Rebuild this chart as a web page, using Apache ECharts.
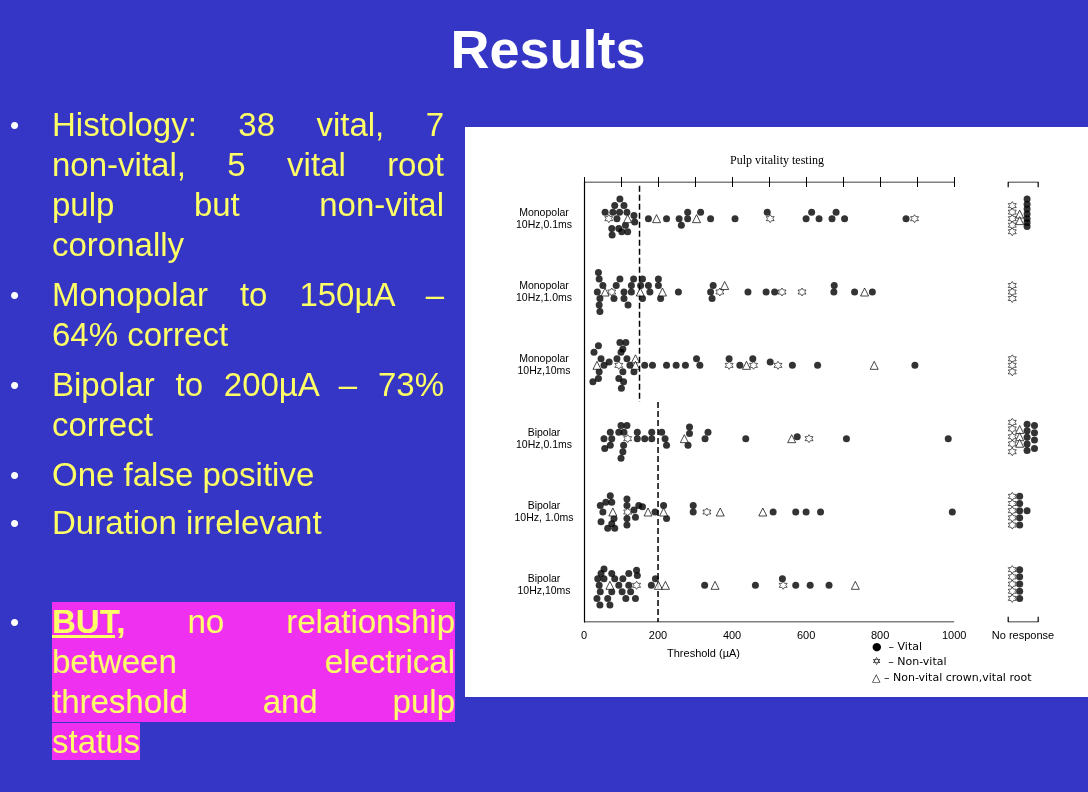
<!DOCTYPE html>
<html><head><meta charset="utf-8">
<script src="https://cdn.jsdelivr.net/npm/echarts@6/dist/echarts.min.js"></script>
<style>
html,body{margin:0;padding:0;width:1088px;height:792px;overflow:hidden;background:#3535c6;font-family:"Liberation Sans",Arial,sans-serif;}
#chart{position:absolute;left:0;top:0;width:1088px;height:792px;}
.t{position:absolute;color:#ffff66;font-size:33px;line-height:40px;height:40px;white-space:nowrap;}
.j{text-align:justify;text-align-last:justify;width:392px;}
.b{position:absolute;color:#fff;font-size:26px;line-height:40px;left:10px;}
#title{position:absolute;left:0;width:1096px;text-align:center;top:18px;color:#fff;font-weight:bold;font-size:54px;}
.hl{background:#f030f0;}
</style></head><body>
<div id="chart"></div>
<div id="title">Results</div>
<div class="b" style="top:105px">•</div>
<div class="t j" style="left:52px;top:105px">Histology: 38 vital, 7</div>
<div class="t j" style="left:52px;top:145px">non-vital, 5 vital root</div>
<div class="t j" style="left:52px;top:185px">pulp but non-vital</div>
<div class="t" style="left:52px;top:225px">coronally</div>
<div class="b" style="top:275px">•</div>
<div class="t j" style="left:52px;top:275px">Monopolar to 150µA –</div>
<div class="t" style="left:52px;top:315px">64% correct</div>
<div class="b" style="top:365px">•</div>
<div class="t j" style="left:52px;top:365px">Bipolar to 200µA – 73%</div>
<div class="t" style="left:52px;top:405px">correct</div>
<div class="b" style="top:455px">•</div>
<div class="t" style="left:52px;top:455px">One false positive</div>
<div class="b" style="top:503px">•</div>
<div class="t" style="left:52px;top:503px">Duration irrelevant</div>
<div class="b" style="top:602px">•</div>
<div class="t j hl" style="left:52px;top:602px;width:403px;padding-right:0"><b><u>BUT,</u></b> no relationship</div>
<div class="t j hl" style="left:52px;top:642px;width:403px">between electrical</div>
<div class="t j hl" style="left:52px;top:682px;width:403px">threshold and pulp</div>
<div class="t" style="left:52px;top:722px"><span class="hl">status</span></div>
<script>
const rowLabels=["Monopolar\n10Hz,0.1ms","Monopolar\n10Hz,1.0ms","Monopolar\n10Hz,10ms","Bipolar\n10Hz,0.1ms","Bipolar\n10Hz, 1.0ms","Bipolar\n10Hz,10ms"];
const xTickLabels=[0,200,400,600,800,1000];
// [threshold µA, stack level] per row
const vital=[
[[97,-3],[83,-2],[108,-2],[57,-1],[78,-1],[96,-1],[116,-1],[135,-0.5],[89,0],[137,0.5],[112,1],[75,1.5],[94,1.5],[102,2],[118,2],[76,2.5],[174,0],[223,0],[257,0],[263,1],[280,-1],[280,0],[315,-1],[342,0],[408,0],[495,-1],[600,0],[615,-1],[635,0],[670,0],[681,-1],[704,0],[870,0]],
[[39,-3],[41,-2],[51,-1],[36,0],[43,1],[41,2],[43,3],[97,-2],[87,-1],[108,0],[81,1],[108,1],[119,2],[134,-2],[128,-1],[128,0],[158,-2],[153,-1],[174,-1],[178,0],[158,1],[201,-2],[201,-1],[207,1],[255,0],[349,-1],[342,0],[346,1],[443,0],[492,0],[515,0],[676,-1],[675,0],[731,0],[779,0]],
[[39,-3],[27,-2],[46,-1],[54,0],[68,-0.5],[89,-1],[97,-3.5],[113,-3.5],[105,-2.5],[100,-2],[116,-1],[124,0],[105,1],[94,2],[107,2.5],[101,3.5],[41,1],[39,2],[24,2.5],[135,1],[164,0],[185,0],[223,0],[249,0],[274,0],[304,-1],[313,0],[392,-1],[421,0],[456,-1],[503,-0.5],[563,0],[631,0],[894,0]],
[[100,-2],[116,-2],[71,-1],[94,-1],[108,-1],[54,0],[75,0],[144,-1],[144,0],[164,0],[183,-1],[183,0],[210,-1],[219,0],[223,1],[56,1.5],[71,1],[107,1],[105,2],[100,3],[285,-1.8],[285,-0.8],[281,1],[327,0],[335,-1],[437,0],[576,-0.3],[709,0],[984,0]],
[[71,-2.5],[59,-1.5],[75,-1.5],[44,-1],[51,0],[81,1],[46,1.5],[75,1.8],[64,2.5],[83,2.5],[116,-2],[116,-1],[116,1],[116,2],[135,-0.3],[139,0.8],[148,-1],[158,-0.8],[192,0],[215,-1],[223,1],[295,-1],[295,0],[511,0],[572,0],[600,0],[639,0],[995,0]],
[[54,-2.5],[46,-1.8],[75,-1.8],[37,-1],[54,-1],[83,-1],[105,-1],[121,-1.8],[142,-2.3],[144,-1.5],[41,0],[94,0],[121,0],[44,1],[75,1],[103,1],[126,1],[35,2],[64,2],[113,2],[139,2],[43,3],[70,3],[193,-1],[182,0],[326,0],[463,0],[536,-1],[572,0],[611,0],[662,0]]];
const nonVital=[
[[67,0],[503,0],[893,0]],
[[75,0],[367,0],[535,0],[589,0]],
[[94,0],[392,0],[458,0],[524,0]],
[[118,0],[608,0]],
[[118,0],[332,0]],
[[142,0],[538,0]]];
const crownOnly=[
[[118,0],[196,0],[304,0]],
[[57,0],[152,0],[212,0],[380,-1],[758,0]],
[[35,0],[139,-1],[139,0],[439,0],[784,0]],
[[271,0],[561,0]],
[[78,0],[173,0],[215,0],[368,0],[483,0]],
[[70,0],[201,0],[220,0],[354,0],[733,0]]];
// No response: [column, level]
const nrVital=[
[[2,-3],[2,-2.2],[2,-1.5],[2,-0.7],[2,0],[2,0.6],[2,1.2]],[],[],
[[2,-2.2],[2,-1.2],[2,-0.2],[2,0.8],[2,1.8],[3,-2],[3,-0.9],[3,0.2],[3,1.5]],
[[1,-2.4],[1,-1.3],[1,-0.2],[1,0.9],[1,2],[2,-0.2]],
[[1,-2.4],[1,-1.3],[1,-0.2],[1,0.9],[1,2]]];
const nrNonVital=[
[[0,-2],[0,-1],[0,0],[0,1],[0,2]],[[0,-1],[0,0],[0,1]],[[0,-1],[0,0],[0,1]],
[[0,-2.5],[0,-1.5],[0,-0.3],[0,0.8],[0,2]],
[[0,-2.4],[0,-1.3],[0,-0.2],[0,0.9],[0,2]],
[[0,-2.4],[0,-1.3],[0,-0.2],[0,0.9],[0,2]]];
const nrCrown=[[[1,-0.7],[1,0.3]],[],[],[[1,-1.4],[1,-0.3],[1,0.7]],[],[]];
const monoCut=150, biCut=200;

const LV=0.089, NRX=1157, NRC=20;
function build(rows,nr){const out=[];rows.forEach((r,i)=>r.forEach(p=>out.push([p[0],0.5+i+p[1]*LV])));
 if(nr)nr.forEach((r,i)=>r.forEach(p=>out.push([NRX+p[0]*NRC,0.5+i+p[1]*LV])));return out;}
const star='path://M0,-10L2.9,-5L8.7,-5L5.8,0L8.7,5L2.9,5L0,10L-2.9,5L-8.7,5L-5.8,0L-8.7,-5L-2.9,-5Z';
const ch=echarts.init(document.getElementById('chart'));
const ln={type:'line',symbol:'none',silent:true,lineStyle:{color:'#000',width:1.2},z:1};
ch.setOption({
 animation:false,
 graphic:[{type:'rect',shape:{x:465,y:127,width:623,height:570},style:{fill:'#fff'},z:-10},
  {type:'text',left:730,top:155,style:{text:'Pulp vitality testing',font:'12px "Liberation Serif",serif',fill:'#000'}},
  {type:'text',left:872,top:642,style:{text:'●  – Vital',font:'11px "DejaVu Sans",sans-serif',fill:'#000'}},
  {type:'text',left:872,top:657,style:{text:'✡  – Non-vital',font:'11px "DejaVu Sans",sans-serif',fill:'#000'}},
  {type:'text',left:872,top:673,style:{text:'△ – Non-vital crown,vital root',font:'11px "DejaVu Sans",sans-serif',fill:'#000'}}],
 grid:{left:584,top:182,width:459,height:440},
 xAxis:[{type:'value',min:0,max:1240,splitLine:{show:false},axisLine:{show:false},
   axisTick:{inside:true,length:5,lineStyle:{color:'#000'},customValues:[0,100,200,300,400,500,600,700,800,900,1000]},
   axisLabel:{customValues:xTickLabels.concat([1186]),formatter:v=>v>1000?'No response':String(v),color:'#000',fontSize:11,fontFamily:'Liberation Sans'},
   name:'Threshold (µA)',nameLocation:'middle',nameGap:26,nameTextStyle:{color:'#000',fontSize:11,padding:[0,220,0,0]}},
  {type:'value',position:'top',min:0,max:1240,splitLine:{show:false},axisLine:{show:false},axisLabel:{show:false},
   axisTick:{inside:true,length:5,lineStyle:{color:'#000'},customValues:[0,100,200,300,400,500,600,700,800,900,1000]}}],
 yAxis:{type:'value',inverse:true,min:0,max:6,splitLine:{show:false},axisTick:{show:false},
   axisLine:{show:true,lineStyle:{color:'#000',width:1.2}},
   axisLabel:{customValues:[0.5,1.5,2.5,3.5,4.5,5.5],formatter:v=>rowLabels[Math.round(v-0.5)],align:'center',margin:40,color:'#000',fontSize:10.5,lineHeight:12,fontFamily:'Liberation Sans'}},
 series:[
  Object.assign({},ln,{data:[[0,6],[1000,6]]}),
  Object.assign({},ln,{data:[[0,0],[1000,0]]}),
  Object.assign({},ln,{data:[[1146,0.07],[1146,0],[1227,0],[1227,0.07]]}),
  Object.assign({},ln,{data:[[1146,5.93],[1146,6],[1227,6],[1227,5.93]]}),
  Object.assign({},ln,{data:[[monoCut,0.05],[monoCut,3.0]],lineStyle:{color:'#000',width:1.5,type:[6,3]}}),
  Object.assign({},ln,{data:[[biCut,3.0],[biCut,6]],lineStyle:{color:'#000',width:1.5,type:[6,3]}}),
  {type:'scatter',data:build(vital,nrVital),symbol:'circle',symbolSize:7,itemStyle:{color:'#000'},z:3},
  {type:'scatter',data:build(nonVital,nrNonVital),symbol:star,symbolSize:8,itemStyle:{color:'#fff',borderColor:'#000',borderWidth:0.8},z:4},
  {type:'scatter',data:build(crownOnly,nrCrown),symbol:'triangle',symbolSize:8,itemStyle:{color:'#fff',borderColor:'#000',borderWidth:0.9},z:4}
 ]
});
</script></body></html>
